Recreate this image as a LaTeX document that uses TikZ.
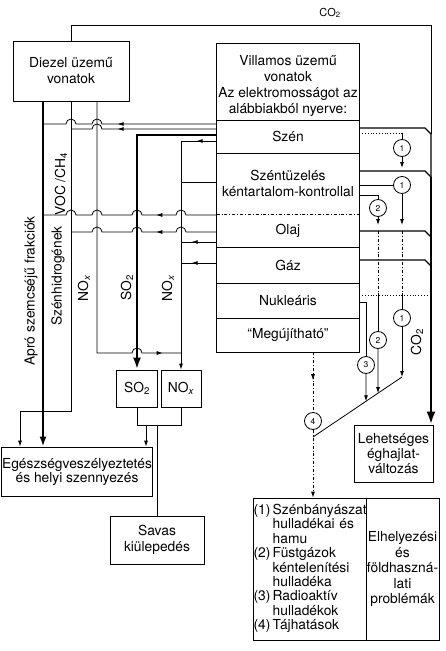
\documentclass[tikz,border=0pt]{standalone}
\usepackage{fontspec}
\setmainfont{TeX Gyre Heros}
\usetikzlibrary{arrows.meta,calc,positioning,decorations.markings}

% line hopping over a vertical line (column #1, row #2)
\newcommand{\hopL}[2]{-- ($(#1 |- #2)+(5,0)$) arc[start angle=0,end angle=180,radius=5pt]}
\newcommand{\hopR}[2]{-- ($(#1 |- #2)+(-5,0)$) arc[start angle=180,end angle=0,radius=5pt]}

\begin{document}
\begin{tikzpicture}[x=1pt, y=-1pt, line width=0.8pt,
    box/.style={draw, inner sep=0.5pt, align=center},
    row/.style={minimum width=142pt, inner sep=0pt, align=center},
    num/.style={draw, circle, minimum size=17pt, inner sep=0pt, font=\fontsize{8.5}{9}\selectfont},
    heavy/.style={line width=2.6pt},
    tip/.style={-{Latex[length=6pt,width=4pt]}},
    bigtip/.style={-{Latex[length=12pt,width=8pt]}},
    arrowat/.style={postaction={decorate}, decoration={markings,
        mark=at position #1 with {\arrow{Latex[length=6pt,width=4pt]}}}},
    co2ln/.style={line width=1.1pt},
    lbl/.style={rotate=90, inner sep=0pt}]
    \fontsize{13.8}{16}\selectfont
    \useasboundingbox (0,0) rectangle (446,651);

    % columns and rows of the wiring
    \foreach \n/\v in {kL/20, kP/43, kH/71, kN/97, kS/137, kX/181, kE/146, kB/425, kR/431}
        \coordinate (\n) at (\v,0);
    \foreach \n/\v in {rTop/25, rA/124, rB/129, rC/135, rD/141, rE/182, rF/215, rG/232,
        rH/242, rI/263, rJ/353, rK/411, rM/425, cA/128, cB/171, cC/231, cD/260,
        rV/133, rW/168, rU/225, rX/195, rN/295, rY/302}
        \coordinate (\n) at (0,\v);

    % Diesel trains
    \node[box, minimum width=116pt, minimum height=60pt] (diesel) at (71,71) {Diezel üzemű\\vonatok};

    % Electric trains and their sources
    \node[row, minimum height=68pt] (head) at (288,86) {Villamos üzemű\\vonatok\\Az elektromosságot az\\alábbiakból nyerve:};
    \node[row, minimum height=32pt, below=0pt of head] (szen) {Szén};
    \node[row, minimum height=60pt, below=0pt of szen] (szent) {Széntüzelés\\kéntartalom-kontrollal};
    \node[row, minimum height=33pt, below=0pt of szent] (olaj) {Olaj};
    \node[row, minimum height=35pt, below=0pt of olaj] (gaz) {Gáz};
    \node[row, minimum height=34pt, below=0pt of gaz] (nukl) {Nukleáris};
    \node[row, minimum height=33pt, below=0pt of nukl] (megu) {``Megújítható''};
    \draw ([yshift=8pt]head.north west) rectangle (megu.south east);
    \foreach \r in {szen,szent,gaz,nukl,megu}
        \draw (\r.north west) -- (\r.north east);
    \draw[dash dot] (olaj.north west) -- (olaj.north east);

    % Effects
    \node[box, minimum width=41pt, minimum height=37pt] (so2) at (137,388.5) {SO\textsubscript{2}};
    \node[box, minimum width=40pt, minimum height=37pt] (nox) at (181,388.5) {NO\textsubscript{\itshape x}};
    \node[box, minimum width=148pt, minimum height=49pt, font=\fontsize{13.8}{14}\selectfont] (egesz) at (77,471.5) {Egészségveszélyeztetés\\és helyi szennyezés};
    \node[box, minimum width=94pt, minimum height=48pt] (savas) at (157,540) {Savas\\kiülepedés};
    \node[box, minimum width=79pt, minimum height=57pt, font=\fontsize{13.8}{15}\selectfont] (lehet) at (393.5,453.5) {Lehetséges\\éghajlat-\\változás};
    \node[box, minimum width=113pt, minimum height=142pt, text width=112pt, align=left,
        font=\fontsize{13.8}{14.4}\selectfont] (waste) at (309.5,569)
        {\begin{tabular}{@{}l@{\,}l@{}}(1)&Szénbányászat\\&hulladékai és\\&hamu\\(2)&Füstgázok\\&kéntelenítési\\&hulladéka\\(3)&Radioaktív\\&hulladékok\\(4)&Tájhatások\end{tabular}};
    \node[box, minimum width=73pt, minimum height=142pt, font=\fontsize{13.8}{15.5}\selectfont] (probl) at (402.5,569) {Elhelyezési\\és\\földhaszná-\\lati\\problémák};

    % CO2
    \node[font=\fontsize{11}{12}\selectfont] (co2top) at (330,13) {CO\textsubscript{2}};
    \coordinate (tA) at ($(kR |- cA)+(0,6)$);
    \coordinate (tB) at ($(kR |- cB)+(0,6)$);
    \coordinate (tC) at ($(kR |- cC)+(0,6)$);
    \coordinate (tD) at ($(kR |- cD)+(0,6)$);
    \draw (diesel.north) |- (kR |- rTop) -- (tA);
    \draw[co2ln] (szen.east |- cA) -- (kB |- cA) -- (tA) -- (tB);
    \draw[co2ln] (szent.east |- cB) -- (kB |- cB) -- (tB);
    \draw[line width=1.6pt] (tB) -- (tC);
    \draw[co2ln] (olaj.east |- cC) -- (kB |- cC) -- (tC);
    \draw[line width=2pt] (tC) -- (tD);
    \draw[co2ln] (gaz.east |- cD) -- (kB |- cD) -- (tD);
    \draw[heavy, -{Latex[length=13pt,width=9pt]}] (tD) -- (kR |- lehet.north);
    \node[lbl] (co2r) at (417,342) {CO\textsubscript{2}};

    % Diesel emissions
    \draw[heavy, -{Latex[length=10pt,width=7pt]}] (kP |- diesel.south) -- (kP |- egesz.north);
    \draw[tip] (diesel.south) -- (kH |- rK) -| (kL |- egesz.north);
    \draw[arrowat=323pt] (kN |- diesel.south) -- (kN |- rJ) \hopR{kS}{rJ} -- (kX |- rJ);

    % emissions of the power sources
    \draw[arrowat=99pt] (szen.west |- rA) \hopL{kN}{rA} \hopL{kH}{rA} -- (kP |- rA);
    \draw[arrowat=99pt] (szen.west |- rB) \hopL{kN}{rB} -- (kH |- rB);
    \draw[heavy, bigtip] (szen.west |- rC) -| (so2.north);
    \draw[arrowat=20pt, tip] (szen.west |- rD) -| (nox.north);
    \draw (szent.west |- rE) -- (kX |- rE);
    \draw[arrowat=66pt] (olaj.west |- rF) \hopL{kX}{rF} \hopL{kS}{rF} \hopL{kN}{rF} \hopL{kH}{rF} -- (kP |- rF);
    \draw[arrowat=66pt] (olaj.west |- rG) \hopL{kX}{rG} \hopL{kS}{rG} \hopL{kN}{rG} -- (kH |- rG);
    \draw[arrowat=25pt] (olaj.west |- rH) -- (kX |- rH);
    \draw[arrowat=25pt] (gaz.west |- rI) -- (kX |- rI);

    % labels of the emission lines
    \node[lbl] (lpart) at (31,291) {Apró szemcséjű frakciók};
    \node[lbl] (lvoc) at (61,184) {VOC /CH\textsubscript{4}};
    \node[lbl] (lhyd) at (58,276) {Szénhidrogének};
    \node[lbl] (lnox1) at (84,288) {NO\textsubscript{\itshape x}};
    \node[lbl] (lso2) at (127,288) {SO\textsubscript{2}};
    \node[lbl] (lnox2) at (168,288) {NO\textsubscript{\itshape x}};

    % SO2 / NOx effects
    \draw (so2.south) |- (nox.south |- rM) -- (nox.south);
    \draw[tip] (kE |- rM) -- (kE |- egesz.north);
    \draw (savas.north |- rM) -- (savas.north);

    % wastes
    \node[num] (c1a) at (402,148) {1};
    \node[num] (c1b) at (402,185) {1};
    \node[num] (c2a) at (378,208) {2};
    \node[num] (c1c) at (402,318) {1};
    \node[num] (c2b) at (378,340) {2};
    \node[num] (c3) at (366,365) {3};
    \node[num] (c4) at (313,421) {4};
    \coordinate (fa) at (313,437);
    \coordinate (fb) at (402,377);
    \draw (fa) -- (fb);

    \draw[dotted] (szen.east |- rV) -- (c1a |- rV);
    \draw (c1a |- rV) -- (c1a);
    \draw[tip] (c1a) -- (c1a |- rW);
    \draw (szent.east |- c1b) -- (c1b);
    \draw[tip] (c1b) -- (c1b |- rU);
    \draw[dash dot] (c1b |- cC) -- (c1b |- rN);
    \draw (c1b |- rN) -- (c1c);
    \draw[tip] (c1c) -- (fb);

    \draw (szent.east |- rX) -| (c2a);
    \draw[tip] (c2a) -- (c2a |- rU);
    \draw[dash dot] (c2a |- cC) -- (c2a |- rN);
    \draw (c2a |- rN) -- (c2b);
    \draw[tip] (c2b) -- (intersection of c2b.north--c2b.south and fa--fb);

    \draw[dotted] (nukl.east |- rN) -- ($(kR |- rN)+(-3,0)$);
    \draw (nukl.east |- rY) -| (c3);
    \draw[tip] (c3) -- (intersection of c3.north--c3.south and fa--fb);

    \draw[dash dot, arrowat=28pt] (c4 |- megu.south) -- (c4);
    \draw[dash dot, tip] (c4) -- (c4 |- waste.north);
\end{tikzpicture}
\end{document}
